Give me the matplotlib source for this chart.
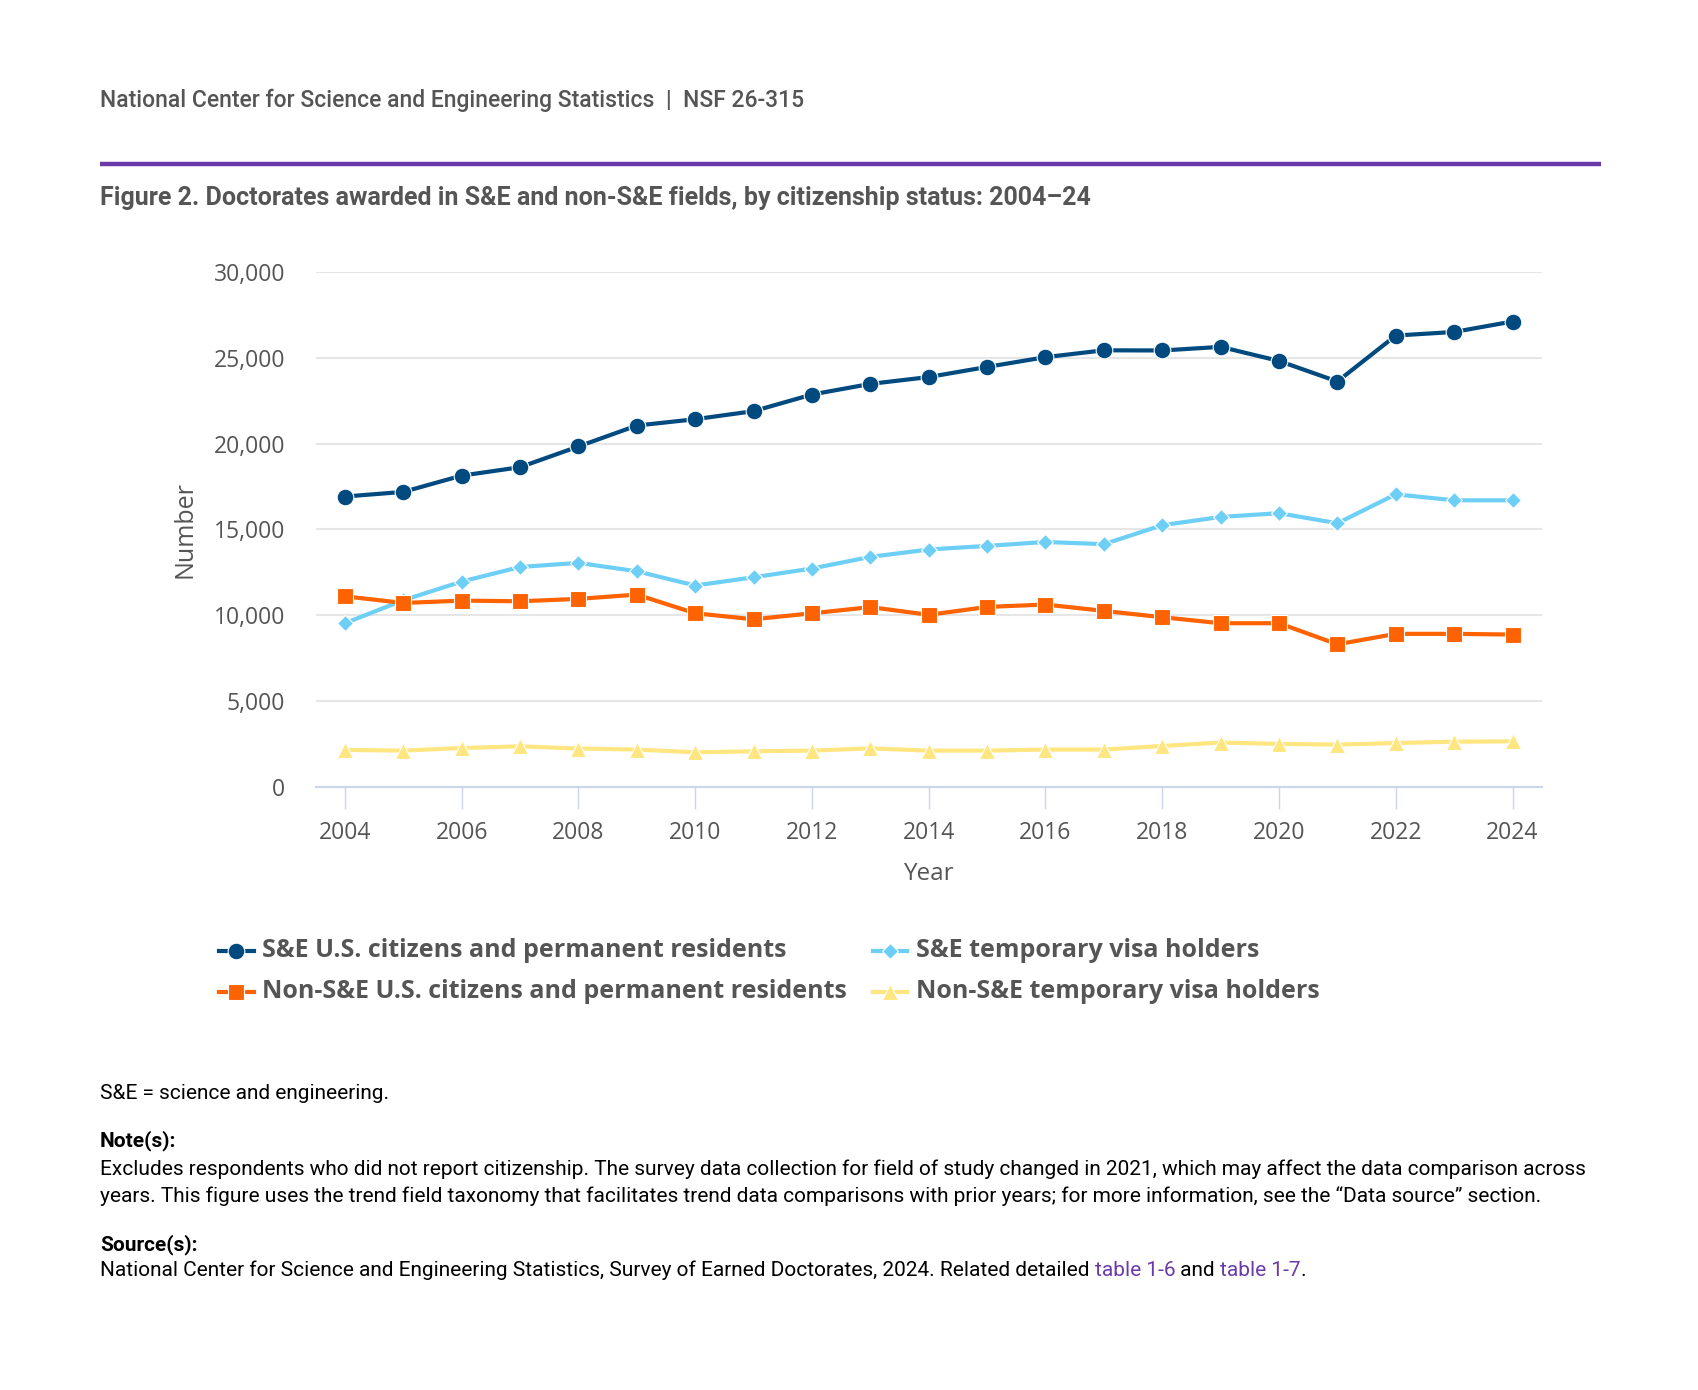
import numpy as np
import matplotlib
matplotlib.use("Agg")
import matplotlib.pyplot as plt
from matplotlib.lines import Line2D

# data
years = list(range(2004, 2025))
se_us = [16920, 17190, 18140, 18630, 19840, 21060, 21430, 21900, 22870, 23490, 23890,
         24480, 25050, 25450, 25440, 25650, 24830, 23630, 26310, 26520, 27130]
se_visa = [9530, 10870, 11960, 12810, 13050, 12560, 11730, 12210, 12720, 13400, 13830,
           14040, 14270, 14140, 15250, 15730, 15950, 15360, 17050, 16700, 16700]
nse_us = [11100, 10710, 10850, 10810, 10950, 11200, 10110, 9760, 10110, 10470, 10020,
          10480, 10620, 10250, 9880, 9530, 9530, 8300, 8910, 8910, 8870]
nse_visa = [2140, 2100, 2250, 2350, 2220, 2160, 2000, 2060, 2100, 2230, 2100,
            2100, 2160, 2160, 2370, 2570, 2490, 2450, 2540, 2620, 2640]

labels = ["S&E U.S. citizens and permanent residents",
          "S&E temporary visa holders",
          "Non-S&E U.S. citizens and permanent residents",
          "Non-S&E temporary visa holders"]
yticks = [0, 5000, 10000, 15000, 20000, 25000, 30000]
xticks = list(range(2004, 2025, 2))

W, H = 1699, 1390
def fx(x):
    return x / W
def fy(y):
    return 1 - y / H

C_DARK = "#004a80"
C_LIGHT = "#6dcff6"
C_ORANGE = "#ff6200"
C_YELLOW = "#ffe680"
PURPLE = "#6a3aa8"
GRAY = "#555555"

fig = plt.figure(figsize=(W / 100, H / 100), dpi=100)

# header
fig.text(fx(100), fy(100), "National Center for Science and Engineering Statistics  |  NSF 26-315",
         family="Roboto", fontweight="medium", fontsize=16.5, color=GRAY, va="center", ha="left")
fig.add_artist(Line2D([fx(100), fx(1601)], [fy(164), fy(164)], transform=fig.transFigure,
                      color=PURPLE, lw=3.2, solid_capstyle="butt"))
fig.text(fx(100), fy(198.5),
         "Figure 2. Doctorates awarded in S&E and non-S&E fields, by citizenship status: 2004\u201324",
         family="Roboto", fontweight="bold", fontsize=18, color=GRAY, va="center", ha="left")

# plot area
left, right, top, bottom = 315.7, 1541.7, 272.3, 786.6
ax = fig.add_axes([fx(left), fy(bottom), (right - left) / W, (bottom - top) / H])

series = [
    (se_us, C_DARK, "o", 12),
    (se_visa, C_LIGHT, "D", 8.5),
    (nse_us, C_ORANGE, "s", 12),
    (nse_visa, C_YELLOW, "^", 11.5),
]
for vals, col, mk, ms in series:
    ax.plot(years, vals, color=col, lw=3, marker=mk, markersize=ms,
            markerfacecolor=col, markeredgecolor="white", markeredgewidth=0.8,
            zorder=3)

ax.set_xlim(2003.5, 2024.5)
ax.set_ylim(0, 30000)
ax.set_yticks(yticks)
ax.set_yticklabels([f"{v:,}" for v in yticks])
ax.set_xticks(xticks)
ax.grid(axis="y", color="#e6e6e6", lw=1.5)
ax.set_axisbelow(True)
for s in ["top", "right", "left"]:
    ax.spines[s].set_visible(False)
ax.spines["bottom"].set_color("#ccd6eb")
ax.spines["bottom"].set_linewidth(1.5)
ax.tick_params(axis="y", length=0, pad=22, labelsize=16.5, labelcolor=GRAY)
ax.tick_params(axis="x", length=15.5, width=1, color="#ccd6eb", pad=9,
               labelsize=16.5, labelcolor=GRAY)
for lab in ax.get_xticklabels() + ax.get_yticklabels():
    lab.set_family("Open Sans")

ax.set_xlabel("Year", family="Open Sans", fontsize=17.5, color=GRAY)
ax.xaxis.set_label_coords(0.5, (bottom - 874.5) / (bottom - top))
ax.xaxis.label.set_va("center")
ax.set_ylabel("Number", family="Open Sans", fontsize=18, color=GRAY)
ax.yaxis.set_label_coords((184.5 - left) / (right - left), 0.5)
ax.yaxis.label.set_va("center")

# legend, laid out by hand
leg_pos = [(236.5, 950.5), (889.7, 950.5), (236.5, 991.7), (889.7, 991.7)]
for (vals, col, mk, ms), lab, (lx, ly) in zip(series, labels, leg_pos):
    fig.add_artist(Line2D([fx(lx - 17), fx(lx), fx(lx + 17)], [fy(ly)] * 3,
                          transform=fig.transFigure, color=col, lw=3, marker=mk,
                          markersize=ms, markevery=[1], markerfacecolor=col,
                          markeredgecolor="white", markeredgewidth=0.8))
    fig.text(fx(lx + 26), fy(ly), lab, family="Open Sans", fontweight="bold",
             fontsize=18, color=GRAY, va="center", ha="left")

# footer
FS = 15.05
fig.text(fx(100), fy(1093.6), "S&E = science and engineering.", family="Roboto",
         fontsize=FS, color="black", va="center")
fig.text(fx(100), fy(1141), "Note(s):", family="Roboto", fontweight="bold",
         fontsize=FS, color="black", va="center")
fig.text(fx(100), fy(1169.6),
         "Excludes respondents who did not report citizenship. The survey data collection for field of study changed in 2021, which may affect the data comparison across",
         family="Roboto", fontsize=FS, color="black", va="center")
fig.text(fx(100), fy(1195.7),
         "years. This figure uses the trend field taxonomy that facilitates trend data comparisons with prior years; for more information, see the \u201cData source\u201d section.",
         family="Roboto", fontsize=FS, color="black", va="center")
fig.text(fx(100), fy(1244.5), "Source(s):", family="Roboto", fontweight="bold",
         fontsize=FS, color="black", va="center")

# source line with the two purple links chained after it
prev = fig.text(fx(100), fy(1270.5),
                "National Center for Science and Engineering Statistics, Survey of Earned Doctorates, 2024. Related detailed ",
                family="Roboto", fontsize=FS, color="black", va="center")
for piece, col in [("table 1-6", PURPLE), (" and ", "black"), ("table 1-7", PURPLE), (".", "black")]:
    prev = ax.annotate(piece, xy=(1, 0), xycoords=prev, va="bottom", ha="left",
                       family="Roboto", fontsize=FS, color=col, annotation_clip=False)

fig.savefig("out.png", dpi=100, facecolor="white")
